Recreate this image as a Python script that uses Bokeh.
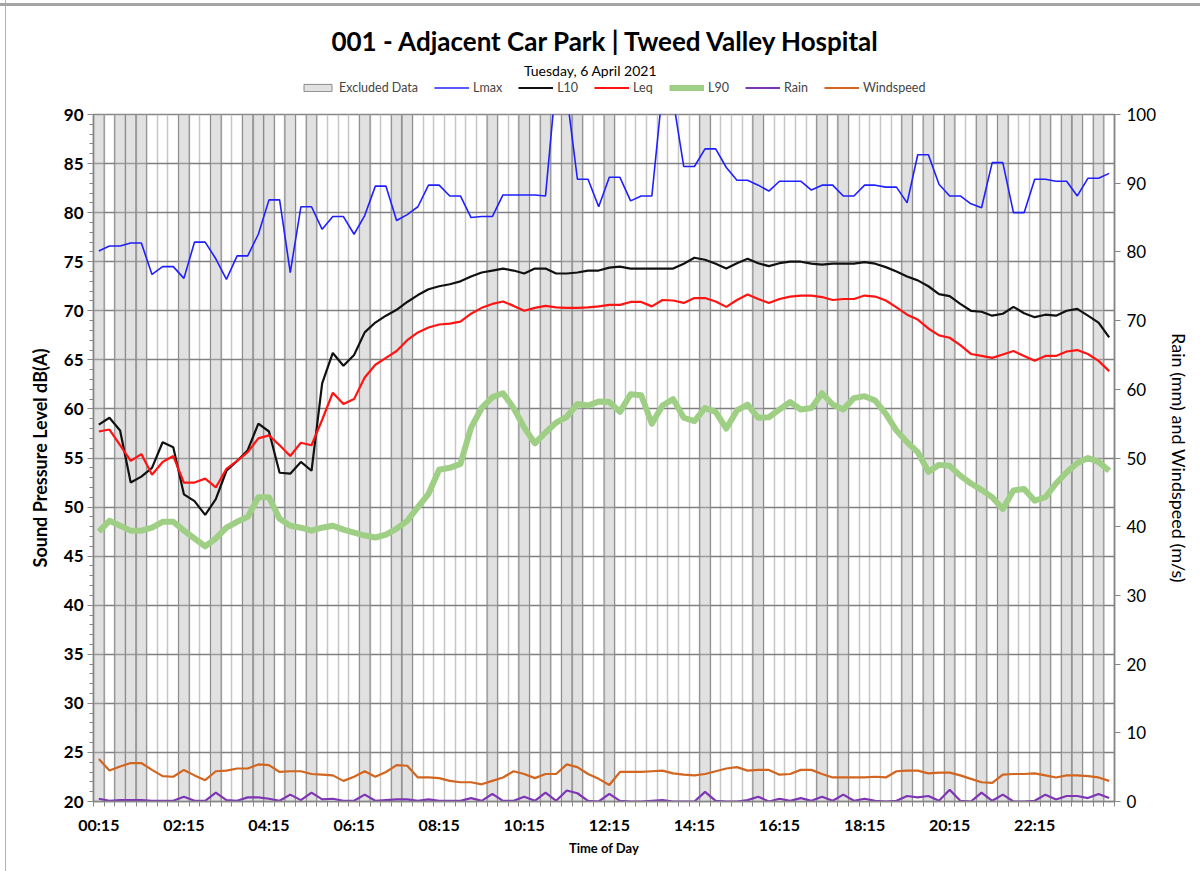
from bokeh.plotting import figure
from bokeh.layouts import column
from bokeh.models import (Range1d, LinearAxis, FixedTicker, Label, Legend,
                          LegendItem, ColumnDataSource)
from bokeh.embed import file_html
from bokeh.resources import INLINE

# ---------------- data ----------------
times = ["%02d:%02d" % ((15 * (k + 1)) // 60, (15 * (k + 1)) % 60) for k in range(96)]
tick_labels = ["00:15", "02:15", "04:15", "06:15", "08:15", "10:15",
               "12:15", "14:15", "16:15", "18:15", "20:15", "22:15"]

excluded_idx = [0, 2, 3, 4, 8, 11, 14, 15, 16, 18, 20, 25, 28, 29, 37, 40, 42, 44,
                45, 48, 57, 62, 68, 70, 76, 78, 80, 83, 85, 89, 91, 92, 94]

lmax = [76.1, 76.6, 76.6, 76.9, 76.9, 73.7, 74.5, 74.5,
        73.3, 77.0, 77.0, 75.3, 73.2, 75.6, 75.6, 77.8,
        81.3, 81.3, 73.9, 80.6, 80.6, 78.3, 79.6, 79.6,
        77.8, 79.7, 82.7, 82.7, 79.2, 79.8, 80.6, 82.8,
        82.8, 81.7, 81.7, 79.5, 79.6, 79.6, 81.8, 81.8,
        81.8, 81.8, 81.7, 93.5, 92.0, 83.4, 83.4, 80.6,
        83.6, 83.6, 81.2, 81.7, 81.7, 92.5, 91.5, 84.7,
        84.7, 86.5, 86.5, 84.6, 83.3, 83.3, 82.8, 82.2,
        83.2, 83.2, 83.2, 82.3, 82.8, 82.8, 81.7, 81.7,
        82.8, 82.8, 82.6, 82.6, 81.0, 85.9, 85.9, 82.9,
        81.7, 81.7, 80.9, 80.5, 85.1, 85.1, 80.0, 80.0,
        83.4, 83.4, 83.2, 83.2, 81.7, 83.5, 83.5, 84.0]

l10 = [58.4, 59.1, 57.8, 52.5, 53.1, 54.0, 56.6, 56.1,
       51.3, 50.6, 49.2, 50.8, 53.7, 54.7, 55.8, 58.5,
       57.7, 53.5, 53.4, 54.6, 53.7, 62.6, 65.7, 64.4,
       65.5, 67.8, 68.8, 69.5, 70.1, 70.9, 71.6, 72.2,
       72.5, 72.7, 73.0, 73.5, 73.9, 74.1, 74.3, 74.1,
       73.8, 74.3, 74.3, 73.8, 73.8, 73.9, 74.1, 74.1,
       74.4, 74.5, 74.3, 74.3, 74.3, 74.3, 74.3, 74.8,
       75.4, 75.2, 74.8, 74.3, 74.85, 75.3, 74.85, 74.55,
       74.85, 75.0, 75.0, 74.8, 74.7, 74.8, 74.8, 74.8,
       74.95, 74.8, 74.45, 74.0, 73.5, 73.1, 72.5, 71.7,
       71.5, 70.7, 70.0, 69.9, 69.5, 69.7, 70.4, 69.75,
       69.35, 69.6, 69.5, 70.0, 70.2, 69.5, 68.8, 67.3]

leq = [57.7, 57.9, 56.3, 54.7, 55.4, 53.3, 54.6, 55.2,
       52.5, 52.5, 52.9, 52.0, 53.9, 54.7, 55.6, 57.0,
       57.3, 56.3, 55.2, 56.55, 56.3, 58.9, 61.65, 60.5,
       61.0, 63.2, 64.5, 65.2, 65.9, 67.0, 67.8, 68.3,
       68.6, 68.7, 68.9, 69.7, 70.3, 70.7, 70.95, 70.5,
       70.0, 70.3, 70.5, 70.35, 70.3, 70.3, 70.35, 70.45,
       70.6, 70.6, 70.9, 70.9, 70.45, 71.1, 71.05, 70.8,
       71.3, 71.3, 70.95, 70.4, 71.1, 71.65, 71.2, 70.8,
       71.2, 71.45, 71.55, 71.55, 71.4, 71.1, 71.2, 71.2,
       71.55, 71.45, 71.05, 70.35, 69.6, 69.1, 68.2, 67.5,
       67.25, 66.5, 65.6, 65.4, 65.2, 65.55, 65.9, 65.4,
       64.9, 65.4, 65.4, 65.85, 66.0, 65.6, 64.9, 63.85]

l90 = [47.5, 48.6, 48.1, 47.6, 47.6, 47.9, 48.5, 48.5,
       47.6, 46.8, 46.0, 46.8, 47.9, 48.5, 49.0, 51.0,
       51.0, 48.8, 48.1, 47.9, 47.6, 47.9, 48.1, 47.7,
       47.4, 47.1, 46.9, 47.2, 47.8, 48.6, 50.0, 51.35,
       53.8, 54.0, 54.4, 58.1, 60.1, 61.2, 61.6, 60.1,
       58.1, 56.5, 57.6, 58.6, 59.2, 60.5, 60.35, 60.75,
       60.7, 59.7, 61.5, 61.4, 58.5, 60.35, 61.0, 59.1,
       58.75, 60.1, 59.7, 58.0, 59.85, 60.45, 59.1, 59.15,
       59.95, 60.7, 59.95, 60.1, 61.6, 60.45, 59.95, 61.1,
       61.3, 60.85, 59.5, 57.8, 56.6, 55.6, 53.6, 54.3,
       54.2, 53.2, 52.4, 51.75, 51.0, 49.8, 51.7, 51.85,
       50.65, 51.0, 52.4, 53.55, 54.5, 55.0, 54.6, 53.7]

rain = [0.4, 0.1, 0.2, 0.2, 0.2, 0.1, 0.1, 0.1,
        0.7, 0.1, 0.1, 1.3, 0.2, 0.1, 0.6, 0.6,
        0.4, 0.1, 1.0, 0.2, 1.3, 0.3, 0.4, 0.1,
        0.1, 1.0, 0.1, 0.2, 0.3, 0.3, 0.1, 0.3,
        0.1, 0.1, 0.1, 0.5, 0.1, 1.1, 0.1, 0.1,
        0.7, 0.1, 1.3, 0.1, 1.6, 1.2, 0.1, 0.0,
        1.1, 0.1, 0.0, 0.0, 0.1, 0.2, 0.0, 0.0,
        0.0, 1.4, 0.1, 0.0, 0.0, 0.2, 0.7, 0.0,
        0.4, 0.1, 0.5, 0.1, 0.7, 0.1, 1.0, 0.1,
        0.4, 0.1, 0.0, 0.1, 0.8, 0.6, 0.8, 0.1,
        1.7, 0.1, 0.0, 1.3, 0.1, 1.0, 0.0, 0.0,
        0.1, 1.0, 0.3, 0.8, 0.8, 0.5, 1.1, 0.5]

wind = [6.2, 4.5, 5.1, 5.6, 5.6, 4.6, 3.7, 3.6,
        4.6, 3.8, 3.1, 4.4, 4.5, 4.8, 4.8, 5.4,
        5.3, 4.3, 4.4, 4.4, 4.0, 3.9, 3.8, 3.0,
        3.6, 4.4, 3.6, 4.3, 5.3, 5.2, 3.5, 3.5,
        3.4, 3.0, 2.8, 2.8, 2.5, 3.0, 3.5, 4.4,
        4.0, 3.4, 4.0, 4.0, 5.4, 5.0, 4.0, 3.3,
        2.4, 4.3, 4.3, 4.3, 4.4, 4.5, 4.1, 3.9,
        3.8, 4.0, 4.4, 4.8, 5.0, 4.5, 4.6, 4.6,
        3.9, 4.0, 4.6, 4.6, 4.0, 3.5, 3.5, 3.5,
        3.5, 3.6, 3.5, 4.4, 4.5, 4.5, 4.1, 4.2,
        4.2, 3.8, 3.3, 2.8, 2.7, 3.9, 4.0, 4.0,
        4.1, 3.8, 3.5, 3.8, 3.8, 3.7, 3.5, 3.0]

title_text = "001 - Adjacent Car Park | Tweed Valley Hospital"
subtitle_text = "Tuesday, 6 April 2021"
legend_labels = ["Excluded Data", "Lmax", "L10", "Leq", "L90", "Rain", "Windspeed"]

# ---------------- styles ----------------
FONT = "Lato"
C_EXCL_FILL, C_EXCL_LINE = "#bcbcbc", "#8a8a8a"
STY = {
    "lmax": dict(line_color="#1f1fff", line_width=1.6),
    "l10": dict(line_color="#111111", line_width=2.2),
    "leq": dict(line_color="#ff1414", line_width=2.2),
    "l90": dict(line_color="#9fcf85", line_width=6, line_join="round"),
    "rain": dict(line_color="#7e35b5", line_width=2.2),
    "wind": dict(line_color="#d2651f", line_width=2.2),
}

n = len(times)
x = list(range(n))
y_min, y_max = 20, 90
r_min, r_max = 0, 100
W, HEAD_H, MAIN_H = 1200, 104, 767
FL, FR = 93, 1114          # frame left / right on the page (both figures share it)
NAN = float("nan")

# ---------------- header (title, subtitle, legend) ----------------
h = figure(width=W, height=HEAD_H, x_range=Range1d(FL, FR), y_range=Range1d(0, HEAD_H),
           output_backend="svg", toolbar_location=None, x_axis_type=None,
           y_axis_type=None, min_border_left=FL, min_border_right=W - FR,
           min_border_top=0, min_border_bottom=0)
h.title.text = ""
h.outline_line_color = None
h.grid.visible = False
h.border_fill_alpha = 0
h.background_fill_alpha = 0

h.add_layout(Label(x=606, y=HEAD_H - 40, text=title_text, text_align="center",
                   text_baseline="middle", text_font=FONT, text_font_size="26px",
                   text_font_style="bold", text_color="black"))
h.add_layout(Label(x=590, y=HEAD_H - 70, text=subtitle_text, text_align="center",
                   text_baseline="middle", text_font=FONT, text_font_size="14px",
                   text_color="black"))

# legend-only stand-in renderers (no visible data)
g_ex = h.quad(left=[NAN], right=[NAN], bottom=[NAN], top=[NAN], fill_color=C_EXCL_FILL,
              fill_alpha=0.45, line_color=C_EXCL_LINE, line_width=1)
g = {k: h.line(x=[NAN], y=[NAN], **s) for k, s in STY.items()}
leg_rends = [g_ex, g["lmax"], g["l10"], g["leq"], g["l90"], g["rain"], g["wind"]]

legend = Legend(items=[LegendItem(label=lab, renderers=[r])
                       for lab, r in zip(legend_labels, leg_rends)],
                orientation="horizontal", location=(300 - FL, HEAD_H - 95))
legend.label_text_font = FONT
legend.label_text_font_size = "12.5px"
legend.label_height = 12
legend.glyph_width = 35
legend.glyph_height = 9
legend.label_standoff = 4
legend.spacing = 16
legend.padding = 0
legend.margin = 0
legend.border_line_color = None
legend.background_fill_alpha = 0
h.add_layout(legend, "center")

# ---------------- main chart ----------------
p = figure(width=W, height=MAIN_H, x_range=Range1d(-0.5, n - 0.5),
           y_range=Range1d(y_min, y_max), output_backend="svg",
           toolbar_location=None, min_border_left=FL, min_border_right=W - FR,
           min_border_top=10, min_border_bottom=70)
p.title.text = ""
p.outline_line_color = "#868686"
p.outline_line_width = 1.5
p.border_fill_alpha = 0
p.background_fill_color = "white"
p.extra_y_ranges = {"rw": Range1d(r_min, r_max)}

src_ex = ColumnDataSource(dict(left=[i - 0.5 for i in excluded_idx],
                               right=[i + 0.5 for i in excluded_idx],
                               bottom=[y_min] * len(excluded_idx),
                               top=[y_max] * len(excluded_idx)))
p.quad(left="left", right="right", bottom="bottom", top="top", source=src_ex,
       fill_color=C_EXCL_FILL, fill_alpha=0.45, line_color=C_EXCL_LINE, line_width=1)

src = ColumnDataSource(dict(x=x, lmax=lmax, l10=l10, leq=leq, l90=l90, rain=rain, wind=wind))
p.line("x", "l90", source=src, **STY["l90"])
p.line("x", "lmax", source=src, **STY["lmax"])
p.line("x", "l10", source=src, **STY["l10"])
p.line("x", "leq", source=src, **STY["leq"])
p.line("x", "rain", source=src, y_range_name="rw", **STY["rain"])
p.line("x", "wind", source=src, y_range_name="rw", **STY["wind"])

tick_pos = [times.index(t) for t in tick_labels]
bounds = [i - 0.5 for i in range(n + 1)]
xax = p.xaxis[0]
xax.ticker = FixedTicker(ticks=tick_pos, minor_ticks=bounds)
xax.major_label_overrides = {pos: lab for pos, lab in zip(tick_pos, tick_labels)}
xax.major_tick_out = 0
xax.major_tick_in = 0
xax.minor_tick_out = 5
xax.minor_tick_in = 0
xax.major_label_standoff = 8
xax.axis_label = "Time of Day"
xax.axis_label_standoff = 3
xax.axis_label_text_font_size = "13px"

yax = p.yaxis[0]
yax.ticker = FixedTicker(ticks=list(range(y_min, y_max + 1, 5)),
                         minor_ticks=list(range(y_min, y_max + 1, 1)))
yax.major_tick_out = 6
yax.major_tick_in = 0
yax.minor_tick_out = 4
yax.minor_tick_in = 0
yax.major_label_standoff = 4
yax.axis_label = "Sound Pressure Level dB(A)"
yax.axis_label_standoff = 10
yax.axis_label_text_font_size = "18px"

rax = LinearAxis(y_range_name="rw", ticker=FixedTicker(ticks=list(range(r_min, r_max + 1, 10))))
rax.major_tick_out = 6
rax.major_tick_in = 0
rax.minor_tick_out = 0
rax.minor_tick_in = 0
rax.major_label_standoff = 6
rax.axis_label = "Rain (mm) and Windspeed (m/s)"
rax.axis_label_standoff = 9
rax.axis_label_text_font_size = "18px"
rax.axis_label_text_font_style = "normal"
p.add_layout(rax, "right")

for ax in (xax, yax, rax):
    ax.axis_line_color = "#868686"
    ax.axis_line_width = 1.5
    ax.major_tick_line_color = "#868686"
    ax.minor_tick_line_color = "#868686"
    ax.major_label_text_font = FONT
    ax.major_label_text_color = "black"
    ax.axis_label_text_font = FONT
    ax.axis_label_text_color = "black"
xax.axis_label_text_font_style = "bold"
yax.axis_label_text_font_style = "bold"
xax.major_label_text_font_size = "16px"
xax.major_label_text_font_style = "bold"
yax.major_label_text_font_size = "17px"
yax.major_label_text_font_style = "bold"
rax.major_label_text_font_size = "17px"

p.xgrid.ticker = FixedTicker(ticks=bounds)
p.xgrid.grid_line_color = "#c6c6c6"
p.xgrid.grid_line_width = 1.5
p.ygrid.grid_line_color = "#7f7f7f"
p.ygrid.grid_line_width = 1.5

# page frame of the original chart image (thick top rule, thin left rule)
page_styles = {
    "background-color": "white",
    "background-image": "linear-gradient(#a4a4a4, #a4a4a4), linear-gradient(#b4b4b4, #b4b4b4)",
    "background-size": "100% 3px, 1px 100%",
    "background-position": "0 3px, 5px 0",
    "background-repeat": "no-repeat",
}
layout = column(h, p, spacing=0, styles=page_styles)
open("out.html", "w").write(file_html(layout, INLINE))
